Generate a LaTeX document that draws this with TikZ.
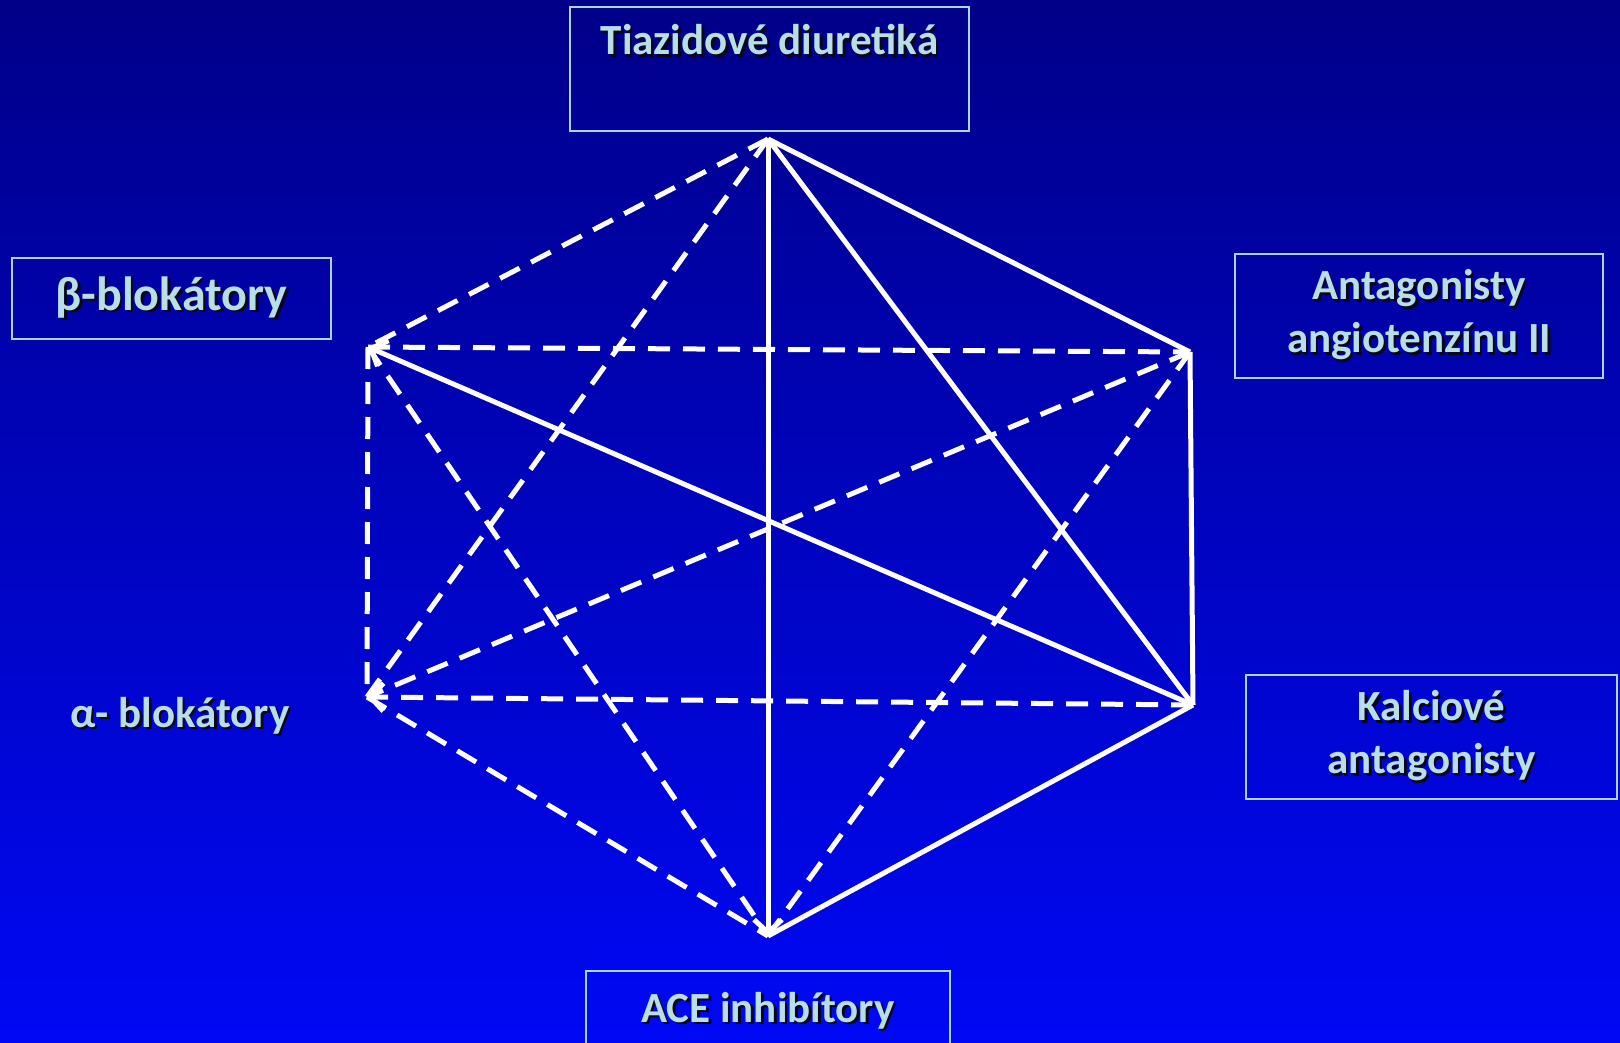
\documentclass[tikz,border=0pt]{standalone}
\usepackage{fontspec}
\setmainfont{Carlito}
\usetikzlibrary{arrows.meta}
\definecolor{bgtop}{RGB}{0,0,136}
\definecolor{bgbot}{RGB}{0,8,245}
\definecolor{txtc}{RGB}{184,224,228}
\definecolor{boxc}{RGB}{170,214,228}
\definecolor{shadowc}{RGB}{6,6,36}
\newcommand\shd[1]{\leavevmode\rlap{\kern2.5pt\raisebox{-2.5pt}{\textcolor{shadowc}{#1}}}#1}
\begin{document}
\begin{tikzpicture}[x=1pt,y=-1pt,
  lbl/.style={text=txtc,font=\bfseries\fontsize{43}{53}\selectfont,align=center,inner sep=0pt},
  drugbox/.style={lbl,draw=boxc,line width=2.5pt},
  edge/.style={draw=white,line width=5pt},
  dedge/.style={edge,dash pattern=on 22pt off 13pt},
  tip/.style={-{Straight Barb[length=13pt,width=28pt]}}
]
\useasboundingbox (0,0) rectangle (1620,1043);
\shade[top color=bgtop,bottom color=bgbot] (0,0) rectangle (1620,1043);

% boxes
\node[drugbox,anchor=base,minimum width=399pt,text height=48pt,text depth=76pt] (tiaz) at (769.5,55) {\shd{Tiazidové diuretiká}};
\node[drugbox,minimum width=319pt,minimum height=81pt,font=\bfseries\fontsize{48}{53}\selectfont] (beta) at (171.5,298.5) {\shd{β-blokátory}};
\node[drugbox,minimum width=368pt,minimum height=124pt] (angio) at (1419,316) {\shd{Antagonisty}\\\shd{angiotenzínu II}};
\node[drugbox,minimum width=371pt,minimum height=124pt] (kalc) at (1431.5,737) {\shd{Kalciové}\\\shd{antagonisty}};
\node[lbl] (alpha) at (180,717) {\shd{α- blokátory}};
\node[drugbox,anchor=base,minimum width=364pt,text height=51pt,text depth=70pt] (ace) at (768,1022) {\shd{ACE inhibítory}};

% vertices
\coordinate (T) at (768,139);
\coordinate (B) at (368,347);
\coordinate (A) at (1190,352);
\coordinate (K) at (1193,705);
\coordinate (L) at (367,697);
\coordinate (E) at (768,936);

% dashed connectors
\draw[dedge] (T) -- (B);
\draw[dedge] (T) -- (L);
\draw[dedge] (B) -- (A);
\draw[dedge] (B) -- (L);
\draw[dedge] (B) -- (E);
\draw[dedge] (A) -- (L);
\draw[dedge] (A) -- (E);
\draw[dedge,tip] (K) -- (L);
\draw[dedge] (L) -- (E);

% solid connectors
\draw[edge] (T) -- (A);
\draw[edge] (T) -- (K);
\draw[edge,tip] (T) -- (E);
\draw[edge,tip] (K) -- (B);
\draw[edge] (A) -- (K);
\draw[edge] (K) -- (E);
\end{tikzpicture}
\end{document}
